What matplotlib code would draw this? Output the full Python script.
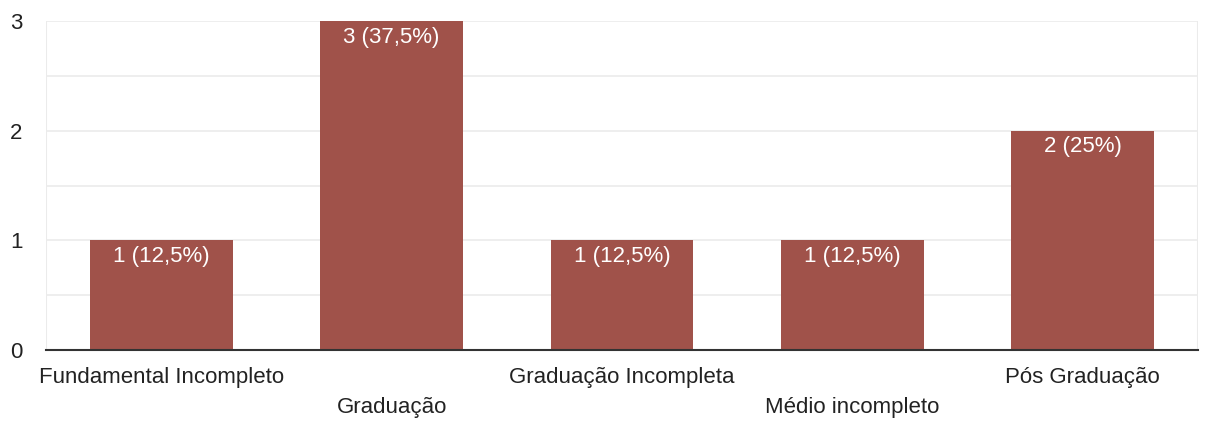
import matplotlib.pyplot as plt
from matplotlib.ticker import MultipleLocator

plt.rcParams['font.family'] = ['Liberation Sans', 'DejaVu Sans']

categories = ['Fundamental Incompleto', 'Graduação', 'Graduação Incompleta',
              'Médio incompleto', 'Pós Graduação']
counts = [1, 3, 1, 1, 2]
percents = ['12,5%', '37,5%', '12,5%', '12,5%', '25%']

BAR_COLOR = '#a0524a'
FS = 16

fig = plt.figure(figsize=(12.06, 4.22), dpi=100)
ax = fig.add_axes([0.0381, 0.1706, 0.9553, 0.7796])

xs = list(range(len(categories)))
ax.bar(xs, counts, width=0.62, color=BAR_COLOR, zorder=3)

for x, c, p in zip(xs, counts, percents):
    ax.annotate(f'{c} ({p})', (x, c), xytext=(0, -4), textcoords='offset points',
                ha='center', va='top', color='white', fontsize=FS, zorder=4)

ax.set_xlim(-0.5, len(categories) - 0.5)
ax.set_ylim(0, 3)
ax.yaxis.set_major_locator(MultipleLocator(1))
ax.yaxis.set_minor_locator(MultipleLocator(0.5))
ax.grid(True, which='both', axis='y', color='#ebebeb', linewidth=1.2, zorder=0)
for s in ['top', 'right', 'left']:
    ax.spines[s].set_visible(False)
# light vertical frame lines on both sides
ax.axvline(-0.5, color='#ebebeb', linewidth=1.5, zorder=1)
ax.axvline(len(categories) - 0.5, color='#ebebeb', linewidth=1.5, zorder=1)
ax.spines['bottom'].set_color('#333333')
ax.spines['bottom'].set_linewidth(1.5)
ax.spines['bottom'].set_zorder(5)

ax.tick_params(axis='y', which='both', length=0, pad=17, labelsize=FS, labelcolor='#222222')
ax.tick_params(axis='x', length=0, labelbottom=False)

# category labels alternate between two rows
for i, name in enumerate(categories):
    offset = -19.5 if i % 2 == 0 else -41.5
    ax.annotate(name, (i, 0), xytext=(0, offset), textcoords='offset points',
                xycoords='data', ha='center', va='center',
                fontsize=FS, color='#222222', annotation_clip=False)

fig.savefig('out.png', dpi=100)
